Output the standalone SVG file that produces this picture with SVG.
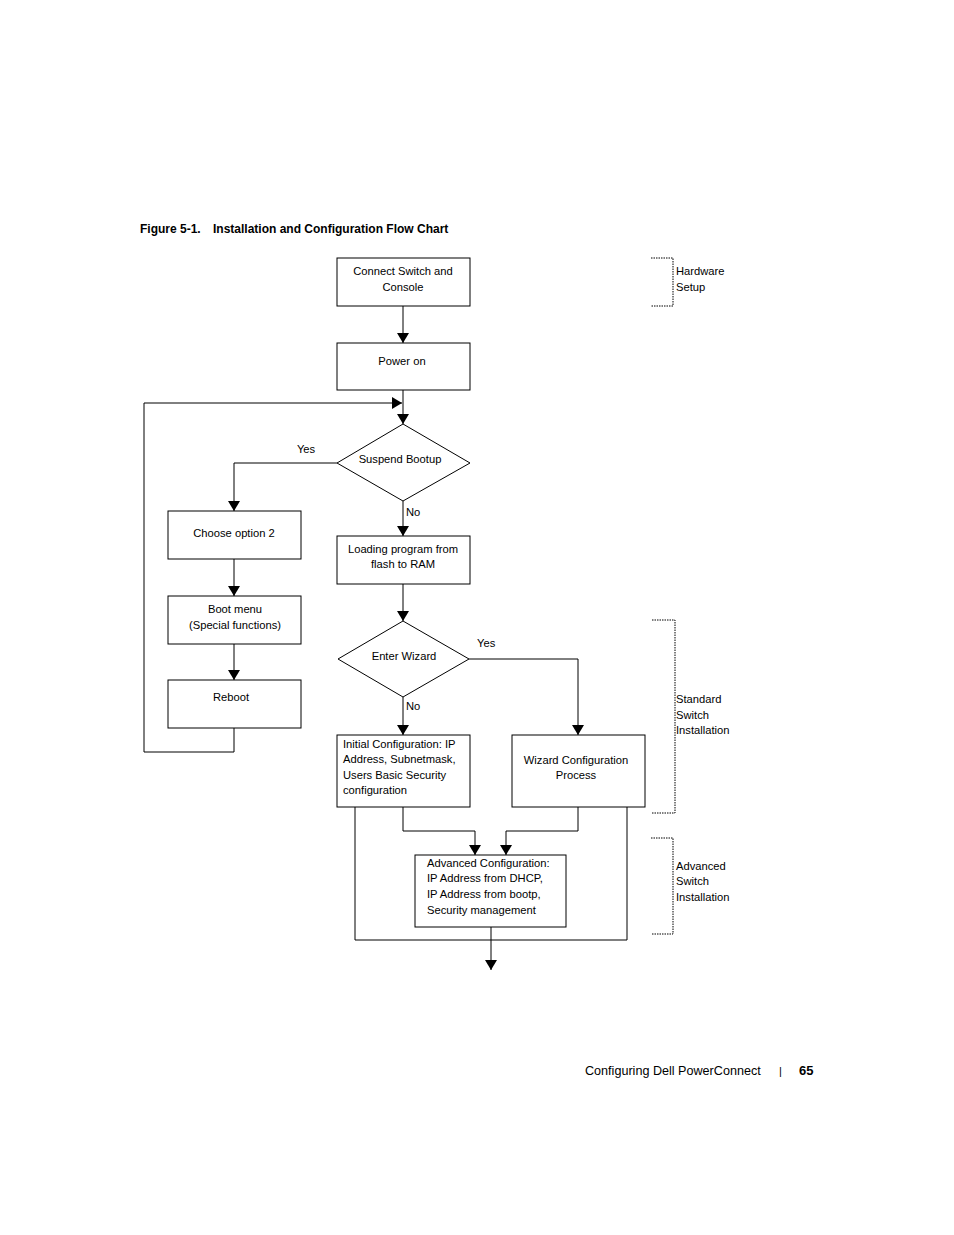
<svg xmlns="http://www.w3.org/2000/svg" width="954" height="1235" viewBox="0 0 954 1235">
<defs>
<marker id="ah" markerWidth="10" markerHeight="12" refX="10" refY="6" orient="auto" markerUnits="userSpaceOnUse">
<path d="M0,0 L10,6 L0,12 Z" fill="#000"/>
</marker>
<style>
.box{fill:#fff;stroke:#000;stroke-width:1}
.ln{fill:none;stroke:#000;stroke-width:1}
.br{fill:none;stroke:#000;stroke-width:1;stroke-dasharray:1.5,1}
text{font-family:"Liberation Sans",Arial,sans-serif;font-size:11.2px;fill:#000}
.c{text-anchor:middle}
.b{font-weight:bold}
</style>
</defs>
<rect width="954" height="1235" fill="#fff"/>
<text x="140" y="233" class="b" style="font-size:12px">Figure 5-1.<tspan x="213">Installation and Configuration Flow Chart</tspan></text>

<g id="connectors">
<path class="ln" d="M403,306 V343" marker-end="url(#ah)"/>
<path class="ln" d="M403,390 V424" marker-end="url(#ah)"/>
<path class="ln" d="M144,752 V403 H402" marker-end="url(#ah)"/>
<path class="ln" d="M234,728 V752 H144"/>
<path class="ln" d="M337,463 H234 V511" marker-end="url(#ah)"/>
<path class="ln" d="M403,501 V536" marker-end="url(#ah)"/>
<path class="ln" d="M234,559 V596" marker-end="url(#ah)"/>
<path class="ln" d="M234,644 V680" marker-end="url(#ah)"/>
<path class="ln" d="M403,584 V621" marker-end="url(#ah)"/>
<path class="ln" d="M469,659 H578 V735" marker-end="url(#ah)"/>
<path class="ln" d="M403,697 V735" marker-end="url(#ah)"/>
<path class="ln" d="M403,807 V831 H475 V855" marker-end="url(#ah)"/>
<path class="ln" d="M578,807 V831 H506 V855" marker-end="url(#ah)"/>
<path class="ln" d="M355,807 V940 H627 V807"/>
<path class="ln" d="M491,927 V970" marker-end="url(#ah)"/>
<text x="306" y="453" class="c">Yes</text>
<text x="406" y="516">No</text>
<text x="477" y="647">Yes</text>
<text x="406" y="710">No</text>
</g>

<g id="n-connect">
<rect class="box" x="337" y="258" width="133" height="48"/>
<text x="403" y="275" class="c">Connect Switch and</text>
<text x="403" y="291" class="c">Console</text>
</g>
<g id="n-power">
<rect class="box" x="337" y="343" width="133" height="47"/>
<text x="402" y="365" class="c">Power on</text>
</g>
<g id="n-suspend">
<path class="box" d="M403,424 L470,463 L403,501 L337,463 Z"/>
<text x="400" y="463" class="c">Suspend Bootup</text>
</g>
<g id="n-choose">
<rect class="box" x="168" y="511" width="133" height="48"/>
<text x="234" y="537" class="c">Choose option 2</text>
</g>
<g id="n-loading">
<rect class="box" x="337" y="536" width="133" height="48"/>
<text x="403" y="553" class="c">Loading program from</text>
<text x="403" y="568" class="c">flash to RAM</text>
</g>
<g id="n-bootmenu">
<rect class="box" x="168" y="596" width="133" height="48"/>
<text x="235" y="613" class="c">Boot menu</text>
<text x="235" y="629" class="c">(Special functions)</text>
</g>
<g id="n-reboot">
<rect class="box" x="168" y="680" width="133" height="48"/>
<text x="231" y="701" class="c">Reboot</text>
</g>
<g id="n-wizard">
<path class="box" d="M403,621 L469,659 L403,697 L338,659 Z"/>
<text x="404" y="660" class="c">Enter Wizard</text>
</g>
<g id="n-initial">
<rect class="box" x="337" y="735" width="133" height="72"/>
<text x="343" y="748">Initial Configuration: IP</text>
<text x="343" y="763">Address, Subnetmask,</text>
<text x="343" y="779">Users Basic Security</text>
<text x="343" y="794">configuration</text>
</g>
<g id="n-wizproc">
<rect class="box" x="512" y="735" width="133" height="72"/>
<text x="576" y="764" class="c">Wizard Configuration</text>
<text x="576" y="779" class="c">Process</text>
</g>
<g id="n-advanced">
<rect class="box" x="415" y="855" width="151" height="72"/>
<text x="427" y="867">Advanced Configuration:</text>
<text x="427" y="882">IP Address from DHCP,</text>
<text x="427" y="898">IP Address from bootp,</text>
<text x="427" y="914">Security management</text>
</g>

<g id="g-hardware">
<path class="br" d="M651,258 H673 V306 H651"/>
<text x="676" y="275">Hardware</text>
<text x="676" y="291">Setup</text>
</g>
<g id="g-standard">
<path class="br" d="M652,620 H675 V813 H652"/>
<text x="676" y="703">Standard</text>
<text x="676" y="719">Switch</text>
<text x="676" y="734">Installation</text>
</g>
<g id="g-advanced">
<path class="br" d="M651,838 H673 V934 H651"/>
<text x="676" y="870">Advanced</text>
<text x="676" y="885">Switch</text>
<text x="676" y="901">Installation</text>
</g>

<text x="585" y="1075" style="font-size:12.6px">Configuring Dell PowerConnect</text>
<text x="779" y="1075" style="font-size:11px">|</text>
<text x="799" y="1075" class="b" style="font-size:13px">65</text>
</svg>
